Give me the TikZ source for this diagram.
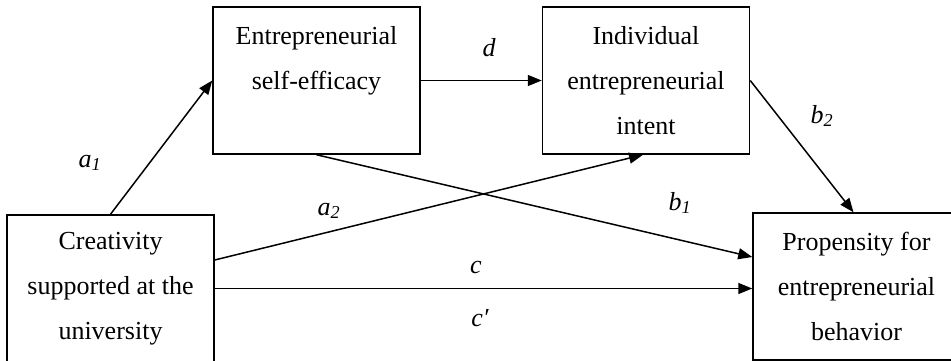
\documentclass[tikz,border=0pt]{standalone}
\usepackage{fontspec}
\setmainfont{Liberation Serif}
\usetikzlibrary{arrows.meta}

\tikzset{
  caixa/.style={draw, line width=1.5pt, minimum width=207pt, minimum height=147pt,
    inner sep=0pt, align=center, font=\fontsize{26}{45}\selectfont},
  seta/.style={->, line width=1.5pt},
  rotulo/.style={inner sep=0pt, font=\fontsize{26}{30}\selectfont\itshape}
}

\begin{document}
\begin{tikzpicture}[x=1pt, y=-1pt, >={Triangle[length=14pt,width=11pt]}]

                \useasboundingbox (0,0) rectangle (951,361);

                % 1. Caixas (variaveis do modelo)
                \node[caixa] (crea) at (110.5,288.5) {Creativity\\supported at the\\university};
                \node[caixa] (ese) at (316.5,80.5) {Entrepreneurial\\self-efficacy\\\vphantom{intent}};
                \node[caixa] (iei) at (646,80.5) {Individual\\entrepreneurial\\intent};
                \node[caixa] (prop) at (856.5,286.5) {Propensity for\\entrepreneurial\\behavior};

                % 2. Caminhos (setas)
                \draw[seta] (crea.north) -- (ese.west); % a1
                \draw[seta] (ese.east) -- (iei.west); % d
                \draw[seta] (ese.south) -- ([yshift=29.5pt]prop.west); % b1
                \draw[seta] ([yshift=28.5pt]crea.east) -- ([xshift=-3pt]iei.south); % a2
                \draw[seta] (crea.east) -- (crea.east -| prop.west); % c
                \draw[seta] (iei.east) -- ([xshift=-3pt]prop.north); % b2

                % 3. Rotulos dos coeficientes
                \node[rotulo] (la1) at (90,163) {a\textsubscript{1}};
                \node[rotulo] (la2) at (329,211) {a\textsubscript{2}};
                \node[rotulo] (ld) at (489,48) {d};
                \node[rotulo] (lb1) at (680,203) {b\textsubscript{1}};
                \node[rotulo] (lb2) at (822,116) {b\textsubscript{2}};
                \node[rotulo] (lc) at (476,268) {c};
                \node[rotulo] (lcl) at (480,318) {c′};

\end{tikzpicture}
\end{document}
